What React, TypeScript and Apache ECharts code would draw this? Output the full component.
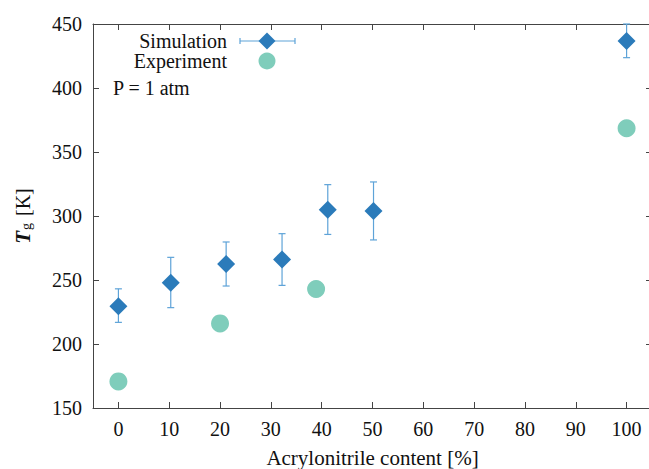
import React, { useEffect, useRef } from "react";
import * as echarts from "echarts";

const xTicks = [0, 10, 20, 30, 40, 50, 60, 70, 80, 90, 100];
const simX = [0, 10.3, 21.2, 32.2, 41.2, 50.2, 100];
const simY = [229.4, 247.9, 262.5, 266.1, 304.9, 303.9, 436.7];
const simLo = [216.9, 228.4, 245.3, 245.8, 285.6, 281.3, 423.7];
const simHi = [243.1, 267.7, 279.7, 286.2, 324.5, 326.6, 450];
const expX = [0, 20, 38.9, 100];
const expY = [170.8, 216.1, 243.0, 368.5];

const FONT = "'Liberation Serif', 'Times New Roman', serif";
const FS = 20;
const AXIS_COLOR = "#444";
const DIAMOND = "#2b7bba";
const ERR = "#5ea3d8";
const CIRCLE = "#7fcdbb";

export default function App() {
  const ref = useRef<HTMLDivElement>(null);
  useEffect(() => {
    document.body.style.margin = "0";
    document.body.style.overflow = "hidden";
    const chart = echarts.init(ref.current!, undefined, { renderer: "svg" });
    const axisBase = {
      type: "value" as const,
      axisLine: { show: true, onZero: false, lineStyle: { color: AXIS_COLOR, width: 1 } },
      axisTick: { show: true, inside: true, length: 6, lineStyle: { color: AXIS_COLOR } },
      splitLine: { show: false },
    };
    chart.setOption({
      animation: false,
      textStyle: { fontFamily: FONT },
      grid: { left: 93, top: 24, right: 8, bottom: 61, containLabel: false, outerBoundsMode: "none" },
      xAxis: [
        {
          ...axisBase,
          min: -5,
          max: 105,
          position: "bottom",
          axisTick: { ...axisBase.axisTick, customValues: xTicks },
          axisLabel: { customValues: xTicks, color: "#111", fontSize: FS, fontFamily: FONT, margin: 11 },
          name: "Acrylonitrile content [%]",
          nameLocation: "middle",
          nameGap: 39,
          nameTextStyle: { color: "#111", fontSize: 21, fontFamily: FONT },
        },
        {
          ...axisBase,
          min: -5,
          max: 105,
          position: "top",
          axisTick: { ...axisBase.axisTick, customValues: xTicks },
          axisLabel: { show: false },
        },
      ],
      yAxis: [
        {
          ...axisBase,
          min: 150,
          max: 450,
          interval: 50,
          position: "left",
          axisLabel: { color: "#111", fontSize: FS, fontFamily: FONT, margin: 11 },
          name: "{t|T}{g|g}{n|[K]}",
          nameLocation: "middle",
          nameRotate: 90,
          nameGap: 60,
          nameTextStyle: {
            rich: {
              t: { fontSize: 21, fontStyle: "italic", fontWeight: "bold", fontFamily: FONT, color: "#111" },
              g: { fontSize: 14, fontFamily: FONT, color: "#111", verticalAlign: "bottom", padding: [7, 0, 0, 1] },
              n: { fontSize: FS, fontFamily: FONT, color: "#111", padding: [0, 0, 0, 7] },
            },
          },
        },
        {
          ...axisBase,
          min: 150,
          max: 450,
          interval: 50,
          position: "right",
          axisLabel: { show: false },
        },
      ],
      series: [
        {
          type: "custom",
          name: "err",
          xAxisIndex: 0,
          yAxisIndex: 0,
          z: 2,
          data: simX.map((x, i) => [x, simLo[i], simHi[i]]),
          renderItem: (params: any, api: any) => {
            const x = api.value(0);
            const lo = api.coord([x, api.value(1)]);
            const hi = api.coord([x, api.value(2)]);
            const w = 3.5;
            const style = { stroke: ERR, lineWidth: 1.2 };
            return {
              type: "group",
              children: [
                { type: "line", shape: { x1: lo[0], y1: lo[1], x2: hi[0], y2: hi[1] }, style },
                { type: "line", shape: { x1: lo[0] - w, y1: lo[1], x2: lo[0] + w, y2: lo[1] }, style },
                { type: "line", shape: { x1: hi[0] - w, y1: hi[1], x2: hi[0] + w, y2: hi[1] }, style },
              ],
            };
          },
        },
        {
          type: "scatter",
          name: "Simulation",
          z: 3,
          symbol: "diamond",
          symbolSize: [18, 18],
          itemStyle: { color: DIAMOND, opacity: 1 },
          data: simX.map((x, i) => [x, simY[i]]),
        },
        {
          type: "scatter",
          name: "Experiment",
          z: 3,
          symbol: "circle",
          symbolSize: 18,
          itemStyle: { color: CIRCLE, opacity: 1 },
          data: expX.map((x, i) => [x, expY[i]]),
        },
      ],
      graphic: [
        {
          type: "text",
          x: 227,
          y: 41,
          style: { text: "Simulation", fontSize: FS, fontFamily: FONT, fill: "#111", align: "right", verticalAlign: "middle" },
        },
        { type: "line", shape: { x1: 240, y1: 41, x2: 295, y2: 41 }, style: { stroke: ERR, lineWidth: 1.2 } },
        { type: "line", shape: { x1: 240, y1: 38, x2: 240, y2: 44 }, style: { stroke: ERR, lineWidth: 1.2 } },
        { type: "line", shape: { x1: 295, y1: 38, x2: 295, y2: 44 }, style: { stroke: ERR, lineWidth: 1.2 } },
        {
          type: "polygon",
          shape: { points: [[267, 32.5], [275.5, 41], [267, 49.5], [258.5, 41]] },
          style: { fill: DIAMOND },
        },
        {
          type: "text",
          x: 227,
          y: 61,
          style: { text: "Experiment", fontSize: FS, fontFamily: FONT, fill: "#111", align: "right", verticalAlign: "middle" },
        },
        { type: "circle", shape: { cx: 267, cy: 61, r: 8.5 }, style: { fill: CIRCLE } },
        {
          type: "text",
          x: 113,
          y: 88,
          style: { text: "P = 1 atm", fontSize: FS, fontFamily: FONT, fill: "#111", align: "left", verticalAlign: "middle" },
        },
      ],
    });
    return () => chart.dispose();
  }, []);
  return <div ref={ref} style={{ width: 660, height: 469 }} />;
}
